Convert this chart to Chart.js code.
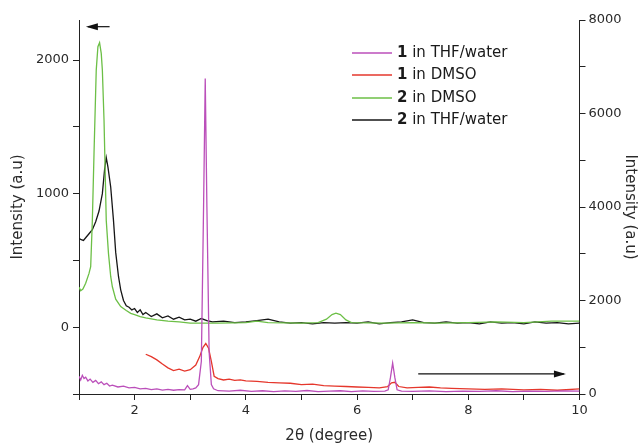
<!DOCTYPE html>
<html>
<head>
<meta charset="utf-8">
<script src="https://cdn.jsdelivr.net/npm/chart.js@4.4.1/dist/chart.umd.min.js"></script>
<style>
  html, body { margin: 0; padding: 0; background: #fff; }
  #wrap { width: 639px; height: 446px; }
</style>
</head>
<body>
<div id="wrap"><canvas id="grafico"></canvas></div>
<script>
// 1 in THF/water (eixo direito)
const thf1X = [1.00, 1.03, 1.06, 1.09, 1.12, 1.16, 1.20, 1.25, 1.30, 1.35, 1.40, 1.45, 1.50, 1.55, 1.60, 1.70, 1.80, 1.90, 2.00, 2.10, 2.20, 2.30, 2.40, 2.50, 2.60, 2.70, 2.80, 2.90, 2.95, 3.00, 3.05, 3.10, 3.15, 3.20, 3.24, 3.27, 3.30, 3.34, 3.38, 3.42, 3.50, 3.70, 3.90, 4.10, 4.30, 4.50, 4.70, 4.90, 5.10, 5.30, 5.50, 5.70, 5.90, 6.10, 6.30, 6.50, 6.56, 6.60, 6.64, 6.68, 6.72, 6.80, 7.00, 7.30, 7.60, 7.90, 8.20, 8.50, 8.80, 9.10, 9.40, 9.70, 10.00];
const thf1Y = [380, 300, 400, 330, 360, 280, 320, 250, 290, 220, 260, 200, 230, 170, 190, 150, 170, 130, 140, 110, 120, 95, 110, 85, 100, 80, 95, 90, 180, 100, 110, 130, 200, 700, 4000, 6750, 4000, 900, 200, 110, 70, 60, 80, 55, 70, 50, 65, 55, 75, 50, 60, 70, 50, 65, 55, 60, 90, 350, 660, 350, 90, 60, 55, 65, 50, 60, 55, 70, 50, 60, 55, 65, 60];

// 1 in DMSO (eixo direito)
const dmso1X = [2.20, 2.30, 2.40, 2.50, 2.60, 2.70, 2.80, 2.90, 3.00, 3.10, 3.17, 3.23, 3.28, 3.33, 3.38, 3.43, 3.50, 3.60, 3.70, 3.80, 3.90, 4.00, 4.20, 4.40, 4.60, 4.80, 5.00, 5.20, 5.40, 5.60, 5.80, 6.00, 6.20, 6.40, 6.55, 6.62, 6.68, 6.75, 6.90, 7.10, 7.30, 7.50, 7.70, 8.00, 8.30, 8.60, 9.00, 9.30, 9.60, 10.00];
const dmso1Y = [850, 800, 730, 640, 560, 500, 530, 490, 520, 620, 800, 1000, 1080, 980, 700, 380, 330, 300, 320, 290, 300, 280, 270, 250, 240, 230, 200, 210, 180, 170, 160, 150, 140, 130, 160, 240, 250, 160, 130, 140, 150, 130, 120, 110, 100, 110, 90, 100, 80, 110];

// 2 in DMSO (eixo esquerdo)
const dmso2X = [1.00, 1.03, 1.07, 1.12, 1.18, 1.21, 1.24, 1.27, 1.31, 1.34, 1.37, 1.40, 1.42, 1.45, 1.49, 1.53, 1.57, 1.60, 1.66, 1.75, 1.85, 1.93, 2.00, 2.10, 2.20, 2.40, 2.60, 2.80, 3.00, 3.50, 4.00, 4.20, 4.40, 5.00, 5.30, 5.45, 5.55, 5.62, 5.70, 5.80, 5.90, 6.50, 7.00, 7.50, 8.00, 8.50, 9.00, 9.50, 10.00];
const dmso2Y = [300, 273, 285, 329, 403, 453, 800, 1300, 1925, 2100, 2130, 2050, 1925, 1550, 800, 553, 380, 303, 210, 154, 125, 104, 95, 80, 70, 55, 45, 40, 30, 30, 35, 45, 35, 30, 35, 60, 95, 105, 95, 55, 35, 30, 35, 30, 35, 40, 35, 45, 45];

// 2 in THF/water (eixo esquerdo)
const thf2X = [1.00, 1.04, 1.08, 1.12, 1.18, 1.24, 1.30, 1.36, 1.42, 1.46, 1.49, 1.52, 1.57, 1.62, 1.66, 1.71, 1.75, 1.80, 1.85, 1.90, 1.95, 2.00, 2.05, 2.10, 2.15, 2.20, 2.30, 2.40, 2.50, 2.60, 2.70, 2.80, 2.90, 3.00, 3.10, 3.20, 3.30, 3.40, 3.60, 3.80, 4.00, 4.20, 4.40, 4.60, 4.80, 5.00, 5.20, 5.40, 5.60, 5.80, 6.00, 6.20, 6.40, 6.60, 6.80, 7.00, 7.20, 7.40, 7.60, 7.80, 8.00, 8.20, 8.40, 8.60, 8.80, 9.00, 9.20, 9.40, 9.60, 9.80, 10.00];
const thf2Y = [665, 655, 650, 670, 700, 730, 790, 870, 1000, 1180, 1270, 1200, 1050, 800, 560, 380, 280, 200, 160, 150, 130, 140, 110, 130, 95, 110, 80, 100, 70, 85, 60, 75, 55, 60, 45, 65, 50, 40, 45, 35, 40, 50, 60, 40, 30, 35, 25, 35, 30, 35, 30, 40, 25, 35, 40, 55, 35, 30, 40, 30, 35, 25, 40, 30, 35, 25, 40, 30, 35, 25, 30];

const nomes = ["1 in THF/water", "1 in DMSO", "2 in DMSO", "2 in THF/water"];
const cores = ["#bb4fba", "#e5372c", "#6cbf46", "#161616"];

// marcas dos eixos (com rótulo) e marcas menores
const ticksEsq = [0, 1000, 2000];
const marcasEsq = [-500, 0, 500, 1000, 1500, 2000];
const ticksDir = [0, 2000, 4000, 6000, 8000];
const marcasDir = [0, 1000, 2000, 3000, 4000, 5000, 6000, 7000, 8000];
const ticksX = [2, 4, 6, 8, 10];
const marcasX = [1, 2, 3, 4, 5, 6, 7, 8, 9, 10];

function pontos(xs, ys) {
    return xs.map((x, i) => ({ x: x, y: ys[i] }));
}

const fonte = "'DejaVu Sans', 'Liberation Sans', Arial, sans-serif";
const corTexto = "#2a2a2a";
const corEixo = "#222";

// setas e legenda desenhadas por cima
const setasPlugin = {
    id: 'setas',
    afterDraw(chart) {
        const ctx = chart.ctx;
        const sx = chart.scales.x, se = chart.scales.yEsq, sd = chart.scales.yDir;
        function seta(x1, x2, y) {
            ctx.save();
            ctx.strokeStyle = "#111";
            ctx.fillStyle = "#111";
            ctx.lineWidth = 1.2;
            ctx.beginPath();
            ctx.moveTo(x1, y);
            ctx.lineTo(x2, y);
            ctx.stroke();
            const d = x2 > x1 ? 1 : -1;
            ctx.beginPath();
            ctx.moveTo(x2 + d * 2, y);
            ctx.lineTo(x2 - d * 10, y - 3.5);
            ctx.lineTo(x2 - d * 10, y + 3.5);
            ctx.closePath();
            ctx.fill();
            ctx.restore();
        }
        seta(sx.getPixelForValue(1.55), sx.getPixelForValue(1.16), se.getPixelForValue(2250));
        seta(sx.getPixelForValue(7.1), sx.getPixelForValue(9.72), sd.getPixelForValue(430));

        // legenda
        const area = chart.chartArea;
        const x0 = area.left + 273;
        const linhasY = [53, 75, 98, 120];
        ctx.save();
        ctx.textBaseline = "middle";
        nomes.forEach((nome, i) => {
            const y = linhasY[i];
            ctx.strokeStyle = cores[i];
            ctx.lineWidth = 1.3;
            ctx.beginPath();
            ctx.moveTo(x0, y);
            ctx.lineTo(x0 + 40, y);
            ctx.stroke();
            const partes = nome.split(" ");
            const num = partes[0];
            const resto = " " + partes.slice(1).join(" ");
            ctx.fillStyle = "#1a1a1a";
            ctx.font = "bold 15px " + fonte;
            ctx.fillText(num, x0 + 45, y);
            const w = ctx.measureText(num).width;
            ctx.font = "15px " + fonte;
            ctx.fillText(resto, x0 + 45 + w, y);
        });
        ctx.restore();
    }
};

function fixarMarcas(lista) {
    return s => { s.ticks = lista.map(v => ({ value: v })); };
}

new Chart(document.getElementById("grafico").getContext("2d"), {
    type: 'line',
    data: {
        datasets: [
            { label: nomes[0], data: pontos(thf1X, thf1Y), borderColor: cores[0], yAxisID: 'yDir' },
            { label: nomes[1], data: pontos(dmso1X, dmso1Y), borderColor: cores[1], yAxisID: 'yDir' },
            { label: nomes[2], data: pontos(dmso2X, dmso2Y), borderColor: cores[2], yAxisID: 'yEsq' },
            { label: nomes[3], data: pontos(thf2X, thf2Y), borderColor: cores[3], yAxisID: 'yEsq' }
        ]
    },
    options: {
        responsive: true,
        maintainAspectRatio: false,
        animation: false,
        layout: { padding: { top: 20, left: 0, right: 0, bottom: 0 } },
        elements: {
            point: { radius: 0 },
            line: { borderWidth: 1.3, tension: 0 }
        },
        plugins: {
            legend: { display: false },
            tooltip: { enabled: false }
        },
        scales: {
            x: {
                type: 'linear',
                min: 1,
                max: 10,
                afterBuildTicks: fixarMarcas(marcasX),
                ticks: {
                    color: corTexto,
                    font: { family: fonte, size: 13 },
                    maxRotation: 0,
                    autoSkip: false,
                    callback: v => ticksX.includes(v) ? v : ''
                },
                grid: { drawOnChartArea: false, drawTicks: true, tickLength: 6, color: corEixo },
                border: { color: corEixo, width: 1 },
                title: {
                    display: true,
                    text: '2θ (degree)',
                    color: corTexto,
                    font: { family: fonte, size: 15 },
                    padding: { top: 4, bottom: 1 }
                },
                afterFit: s => { s.height = 52; }
            },
            yEsq: {
                type: 'linear',
                position: 'left',
                min: -500,
                max: 2300,
                afterBuildTicks: fixarMarcas(marcasEsq),
                ticks: {
                    color: corTexto,
                    padding: 4,
                    autoSkip: false,
                    font: { family: fonte, size: 13 },
                    callback: v => ticksEsq.includes(v) ? v : ''
                },
                grid: { drawOnChartArea: false, drawTicks: true, tickLength: 6, color: corEixo },
                border: { color: corEixo, width: 1 },
                title: {
                    display: true,
                    text: 'Intensity (a.u)',
                    color: corTexto,
                    font: { family: fonte, size: 15 },
                    padding: { top: 9, bottom: 2 }
                },
                afterFit: s => { s.width = 79; }
            },
            yDir: {
                type: 'linear',
                position: 'right',
                min: 0,
                max: 8000,
                afterBuildTicks: fixarMarcas(marcasDir),
                ticks: {
                    color: corTexto,
                    padding: 3,
                    autoSkip: false,
                    font: { family: fonte, size: 13 },
                    callback: v => ticksDir.includes(v) ? v : ''
                },
                grid: { drawOnChartArea: false, drawTicks: true, tickLength: 6, color: corEixo },
                border: { color: corEixo, width: 1 },
                title: {
                    display: true,
                    text: 'Intensity (a.u)',
                    color: corTexto,
                    font: { family: fonte, size: 15 },
                    padding: { top: 0, bottom: 0 }
                },
                afterFit: s => { s.width = 59.5; }
            }
        }
    },
    plugins: [setasPlugin]
});
</script>
</body>
</html>
